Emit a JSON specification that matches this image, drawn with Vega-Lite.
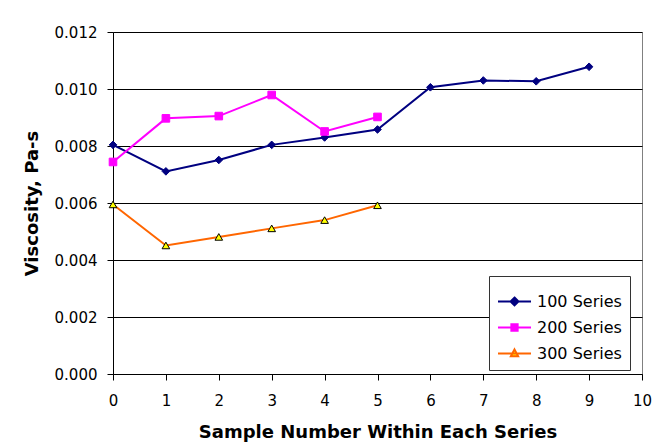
{
  "$schema": "https://vega.github.io/schema/vega-lite/v6.json",
  "width": 529,
  "height": 342,
  "autosize": {"type": "none"},
  "padding": {"left": 113, "top": 32, "right": 20, "bottom": 74},
  "background": "white",
  "config": {
    "view": {"stroke": "#808080", "strokeWidth": 1},
    "font": "DejaVu Sans",
    "axis": {
      "labelFont": "DejaVu Sans",
      "labelFontSize": 15,
      "labelColor": "#000",
      "titleFont": "DejaVu Sans",
      "titleFontSize": 18,
      "titleFontWeight": "bold",
      "titleColor": "#000",
      "domainColor": "#000",
      "tickColor": "#000",
      "tickSize": 6,
      "gridColor": "#000",
      "gridWidth": 1,
      "gridOpacity": 1
    }
  },
  "data": {
    "values": [
      {"series": "100 Series", "sample": 0, "visc": 0.00804},
      {"series": "100 Series", "sample": 1, "visc": 0.00711},
      {"series": "100 Series", "sample": 2, "visc": 0.00751},
      {"series": "100 Series", "sample": 3, "visc": 0.00804},
      {"series": "100 Series", "sample": 4, "visc": 0.0083},
      {"series": "100 Series", "sample": 5, "visc": 0.00858},
      {"series": "100 Series", "sample": 6, "visc": 0.01006},
      {"series": "100 Series", "sample": 7, "visc": 0.0103},
      {"series": "100 Series", "sample": 8, "visc": 0.01027},
      {"series": "100 Series", "sample": 9, "visc": 0.01078},
      {"series": "200 Series", "sample": 0, "visc": 0.00744},
      {"series": "200 Series", "sample": 1, "visc": 0.00897},
      {"series": "200 Series", "sample": 2, "visc": 0.00905},
      {"series": "200 Series", "sample": 3, "visc": 0.00979},
      {"series": "200 Series", "sample": 4, "visc": 0.00851},
      {"series": "200 Series", "sample": 5, "visc": 0.00902},
      {"series": "300 Series", "sample": 0, "visc": 0.00595},
      {"series": "300 Series", "sample": 1, "visc": 0.00451},
      {"series": "300 Series", "sample": 2, "visc": 0.00481},
      {"series": "300 Series", "sample": 3, "visc": 0.00511},
      {"series": "300 Series", "sample": 4, "visc": 0.0054},
      {"series": "300 Series", "sample": 5, "visc": 0.00592}
    ]
  },
  "encoding": {
    "x": {
      "field": "sample",
      "type": "quantitative",
      "scale": {"domain": [0, 10], "nice": false},
      "axis": {
        "title": "Sample Number Within Each Series",
        "values": [0, 1, 2, 3, 4, 5, 6, 7, 8, 9, 10],
        "format": "d",
        "grid": false,
        "labelFlush": false,
        "labelPadding": 13,
        "titlePadding": 15
      }
    },
    "y": {
      "field": "visc",
      "type": "quantitative",
      "scale": {"domain": [0, 0.012], "nice": false, "zero": true},
      "axis": {
        "title": "Viscosity, Pa-s",
        "values": [0, 0.002, 0.004, 0.006, 0.008, 0.01, 0.012],
        "format": ".3f",
        "labelFlush": false,
        "labelPadding": 10,
        "titlePadding": 13
      }
    }
  },
  "layer": [
    {
      "mark": {"type": "line", "strokeWidth": 2},
      "encoding": {
        "color": {
          "field": "series",
          "type": "nominal",
          "scale": {"domain": ["100 Series", "200 Series", "300 Series"], "range": ["#000080", "#FF00FF", "#FF6600"]},
          "legend": null
        }
      }
    },
    {
      "mark": {"type": "point", "filled": true, "size": 58, "strokeWidth": 1, "opacity": 1},
      "encoding": {
        "shape": {
          "field": "series",
          "type": "nominal",
          "scale": {"domain": ["100 Series", "200 Series", "300 Series"], "range": ["diamond", "square", "triangle-up"]},
          "legend": null
        },
        "fill": {
          "field": "series",
          "type": "nominal",
          "scale": {"domain": ["100 Series", "200 Series", "300 Series"], "range": ["#000080", "#FF00FF", "#FFFF00"]},
          "legend": null
        },
        "stroke": {
          "field": "series",
          "type": "nominal",
          "scale": {"domain": ["100 Series", "200 Series", "300 Series"], "range": ["#000080", "#FF00FF", "#000000"]},
          "legend": null
        }
      }
    },
    {
      "transform": [{"filter": "false"}],
      "mark": {"type": "point", "filled": true, "size": 1089, "strokeWidth": 2, "opacity": 1},
      "encoding": {
        "shape": {
          "field": "series",
          "type": "nominal",
          "scale": {"domain": ["100 Series", "200 Series", "300 Series"], "range": [
            "M-1,0H1M0,-0.24L0.24,0L0,0.24L-0.24,0Z",
            "M-1,0H1M-0.19,-0.19H0.19V0.19H-0.19Z",
            "M-1,0H1M0,-0.25L0.22,0.17H-0.22Z"
          ]},
          "legend": {
            "orient": "none",
            "legendX": 376,
            "legendY": 244,
            "title": null,
            "strokeColor": "#333",
            "fillColor": "white",
            "padding": 8,
            "labelFont": "DejaVu Sans",
            "labelFontSize": 16,
            "labelColor": "#000",
            "labelOffset": 5,
            "rowPadding": 0,
            "symbolSize": 1089,
            "symbolStrokeWidth": 2
          }
        },
        "fill": {
          "field": "series",
          "type": "nominal",
          "scale": {"domain": ["100 Series", "200 Series", "300 Series"], "range": ["#000080", "#FF00FF", "#FFFF00"]}
        },
        "stroke": {
          "field": "series",
          "type": "nominal",
          "scale": {"domain": ["100 Series", "200 Series", "300 Series"], "range": ["#000080", "#FF00FF", "#FF6600"]}
        }
      }
    }
  ],
  "resolve": {
    "scale": {"shape": "independent", "fill": "independent", "stroke": "independent"},
    "legend": {"shape": "independent", "fill": "independent", "stroke": "independent"}
  }
}
